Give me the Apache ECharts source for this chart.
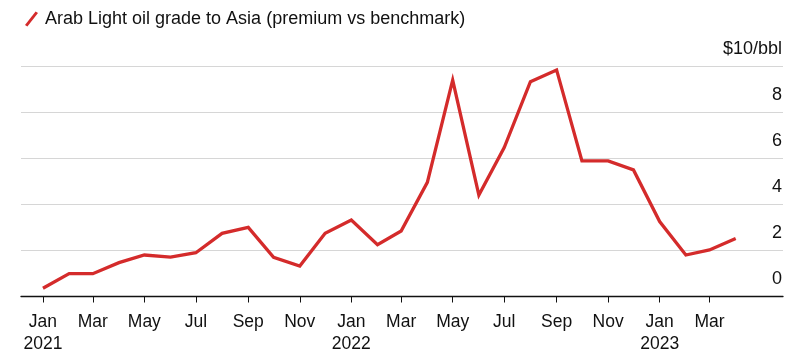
<!DOCTYPE html>
<html>
<head>
<meta charset="utf-8">
<script src="https://cdn.jsdelivr.net/npm/echarts@6/dist/echarts.min.js"></script>
<style>
html,body{margin:0;padding:0;background:#fff;}
#c{width:801px;height:359px;}
</style>
</head>
<body>
<div id="c"></div>
<script>
var seriesName = 'Arab Light oil grade to Asia (premium vs benchmark)';
var months = ['2021-01','2021-02','2021-03','2021-04','2021-05','2021-06','2021-07','2021-08','2021-09','2021-10','2021-11','2021-12',
              '2022-01','2022-02','2022-03','2022-04','2022-05','2022-06','2022-07','2022-08','2022-09','2022-10','2022-11','2022-12',
              '2023-01','2023-02','2023-03','2023-04'];
var premium = [0.36,0.99,0.99,1.47,1.80,1.71,1.90,2.74,3.00,1.70,1.32,2.74,
               3.32,2.25,2.84,4.95,9.39,4.40,6.46,9.32,9.83,5.88,5.88,5.49,
               3.25,1.80,2.02,2.52];
var xTickMonths = ['2021-01','2021-03','2021-05','2021-07','2021-09','2021-11','2022-01','2022-03','2022-05','2022-07','2022-09','2022-11','2023-01','2023-03'];
var monthNames = ['Jan','Feb','Mar','Apr','May','Jun','Jul','Aug','Sep','Oct','Nov','Dec'];
var yTicks = [0,2,4,6,8,10];
var yUnit = '$10/bbl';
var xStart = '2020-12-06';
var xEnd = '2023-05-27';

function ts(s){ var p = s.split('-'); return Date.UTC(+p[0], +p[1]-1, p[2] ? +p[2] : 1); }

var data = months.map(function(m,i){ return [ts(m), premium[i]]; });
var tickVals = xTickMonths.map(ts);

var FONT = 'Liberation Sans, Arial, sans-serif';
var chart = echarts.init(document.getElementById('c'), null, {renderer:'canvas'});
chart.setOption({
  animation:false,
  backgroundColor:'#ffffff',
  textStyle:{fontFamily:FONT},
  legend:{
    show:true, left:20, top:5,
    itemWidth:13, itemHeight:15, itemGap:10,
    icon:'path://M0,13.6 L10.6,0 L13,1.4 L2.4,15 Z',
    textStyle:{fontSize:18, color:'#111', fontFamily:FONT, padding:[0,0,0,2]},
    data:[{name:seriesName, itemStyle:{color:'#d42b2b'}}]
  },
  grid:{left:21, right:18, top:66, bottom:62.5, containLabel:false},
  xAxis:{
    type:'value',
    min:ts(xStart), max:ts(xEnd),
    axisLine:{show:true, lineStyle:{color:'#111', width:1.3}},
    axisTick:{show:true, customValues:tickVals, length:6, lineStyle:{color:'#111', width:1}},
    splitLine:{show:false},
    axisLabel:{
      customValues:tickVals,
      margin:15,
      fontSize:17.5, color:'#111', lineHeight:21.5, fontFamily:FONT,
      hideOverlap:false, showMinLabel:true, showMaxLabel:true,
      formatter:function(v){
        var d = new Date(v);
        var m = d.getUTCMonth();
        return m === 0 ? monthNames[m] + '\n' + d.getUTCFullYear() : monthNames[m];
      }
    }
  },
  yAxis:{
    type:'value', position:'right',
    min:yTicks[0], max:yTicks[yTicks.length-1], interval:2,
    axisLine:{show:false}, axisTick:{show:false},
    splitLine:{show:true, lineStyle:{color:'#d6d6d6', width:1.2}},
    axisLabel:{
      inside:true, margin:1, align:'right', verticalAlign:'bottom',
      padding:[0,0,7,0],
      fontSize:18, color:'#111', fontFamily:FONT, lineHeight:20,
      formatter:function(v){ return v === yTicks[yTicks.length-1] ? yUnit : String(v); }
    }
  },
  series:[{
    name:seriesName, type:'line', data:data,
    symbol:'none', smooth:false,
    lineStyle:{color:'#d42b2b', width:3.3, join:'miter'},
    itemStyle:{color:'#d42b2b'}
  }]
});
</script>
</body>
</html>
